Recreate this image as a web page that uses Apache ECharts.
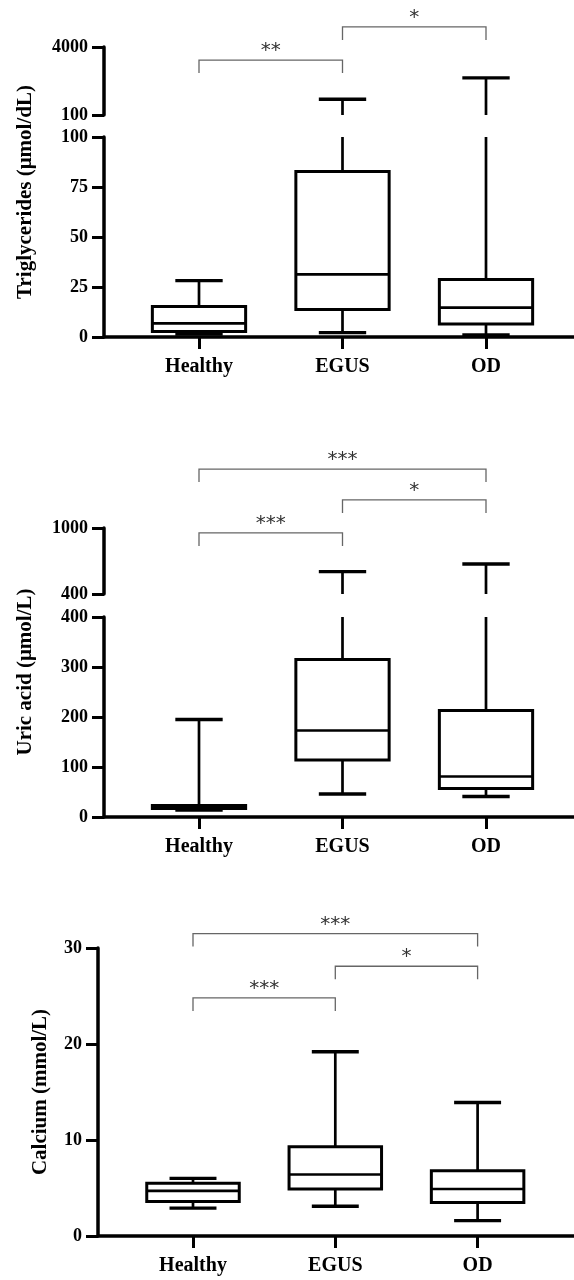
<!DOCTYPE html>
<html><head><meta charset="utf-8">
<script src="https://cdn.jsdelivr.net/npm/echarts@6/dist/echarts.min.js"></script>
<style>html,body{margin:0;padding:0;background:#fff}#c{width:574px;height:1280px}</style>
</head><body><div id="c"></div>
<script>
const categories = ['Healthy', 'EGUS', 'OD'];
// each box: [min, Q1, median, Q3, max]
const triHealthy = [1.5, 2.7, 6.8, 15.2, 28.2];
const triEGUS = [2.2, 13.8, 31.3, 82.7, 1000];
const triOD = [1.0, 6.5, 14.7, 28.8, 2230];
const uricHealthy = [14, 17, 20, 23, 195];
const uricEGUS = [46, 114, 173, 315, 603];
const uricOD = [41, 57, 81, 213, 673];
const caHealthy = [2.9, 3.6, 4.7, 5.5, 6.0];
const caEGUS = [3.1, 4.9, 6.4, 9.3, 19.2];
const caOD = [1.6, 3.5, 4.9, 6.8, 13.9];
const triLowerTicks = [0, 25, 50, 75, 100];
const triUpperTicks = [100, 4000];
const uricLowerTicks = [0, 100, 200, 300, 400];
const uricUpperTicks = [400, 1000];
const caTicks = [0, 10, 20, 30];
// brackets: [fromIndex, toIndex, height (data units), label]
const triBrackets = [[0, 1, 3250, '**'], [1, 2, 5150, '*']];
const uricBrackets = [[0, 1, 955, '***'], [1, 2, 1255, '*'], [0, 2, 1536, '***']];
const caBrackets = [[0, 1, 24.8, '***'], [1, 2, 28.1, '*'], [0, 2, 31.5, '***']];
const titles = ['Triglycerides (μmol/dL)', 'Uric acid (μmol/L)', 'Calcium (mmol/L)'];

const FONT = '"Liberation Serif", "Times New Roman", serif';
const W = 574;
const option = {animation: false, grid: [], xAxis: [], yAxis: [], series: [], graphic: []};

function boxSeries(xi, data, lo, hi) {
  return {
    type: 'custom', xAxisIndex: xi, yAxisIndex: xi, clip: false, silent: true,
    data: data.map((d, i) => [i].concat(d)),
    encode: {x: 0, y: [1, 2, 3, 4, 5]},
    renderItem(params, api) {
      const i = api.value(0);
      const mn = api.value(1), q1 = api.value(2), md = api.value(3), q3 = api.value(4), mx = api.value(5);
      const band = api.size([1, 0])[0];
      const bw = band * 0.65, cw = band * 0.33;
      const cx = api.coord([i, lo])[0];
      const Y = v => api.coord([i, Math.max(lo, Math.min(hi, v))])[1];
      const ch = [];
      const line = (x1, y1, x2, y2, w) => ch.push({type: 'line', shape: {x1, y1, x2, y2}, style: {stroke: '#000', lineWidth: w}});
      const seg = (a, b) => { const s = Math.max(a, lo), e = Math.min(b, hi); if (e > s) line(cx, Y(s), cx, Y(e), 2.7); };
      seg(mn, q1); seg(q3, mx);
      if (mn >= lo && mn <= hi) line(cx - cw / 2, Y(mn), cx + cw / 2, Y(mn), 3.4);
      if (mx >= lo && mx <= hi) line(cx - cw / 2, Y(mx), cx + cw / 2, Y(mx), 3.4);
      const bs = Math.max(q1, lo), be = Math.min(q3, hi);
      if (be > bs) {
        const yt = Y(be), yb = Y(bs);
        ch.push({type: 'rect', shape: {x: cx - bw / 2, y: yt, width: bw, height: yb - yt}, style: {stroke: '#000', fill: null, lineWidth: 3}});
      }
      if (md >= lo && md <= hi) line(cx - bw / 2, Y(md), cx + bw / 2, Y(md), 2.6);
      return {type: 'group', children: ch};
    }
  };
}

function bracketSeries(xi, brackets) {
  return {
    type: 'custom', xAxisIndex: xi, yAxisIndex: xi, clip: false, silent: true, z: 5,
    data: brackets.map(b => [b[0], b[1], b[2]]),
    encode: {x: [0, 1], y: 2},
    renderItem(params, api) {
      const b = brackets[params.dataIndex];
      const p1 = api.coord([api.value(0), api.value(2)]);
      const p2 = api.coord([api.value(1), api.value(2)]);
      const drop = 13;
      return {type: 'group', children: [
        {type: 'polyline', shape: {points: [[p1[0], p1[1] + drop], [p1[0], p1[1]], [p2[0], p1[1]], [p2[0], p1[1] + drop]]},
          style: {stroke: '#666', lineWidth: 1.3, fill: null}},
        {type: 'text', x: (p1[0] + p2[0]) / 2, y: p1[1] + 1,
          style: {text: b[3], fill: '#333', font: '20px "DejaVu Sans", sans-serif', align: 'center', verticalAlign: 'bottom'}}
      ]};
    }
  };
}

// one segment: frame grid (axis lines + y ticks) and category grid (boxes)
function segment(s) {
  const h = s.bottom - s.top;
  const gi = option.grid.length;
  option.grid.push({left: s.axisX, top: s.top, width: W - s.axisX, height: h, outerBoundsMode: 'none'});
  option.xAxis.push({gridIndex: gi, type: 'value', min: 0, max: 1,
    axisLine: {show: s.xLine, onZero: false, lineStyle: {color: '#000', width: 3.5}},
    axisTick: {show: false}, axisLabel: {show: false}, splitLine: {show: false}});
  option.yAxis.push({gridIndex: gi, type: 'value', min: s.min, max: s.max,
    axisLine: {show: true, onZero: false, lineStyle: {color: '#000', width: 3.5}},
    axisTick: {show: true, length: 12, customValues: s.ticks, lineStyle: {color: '#000', width: 3}},
    axisLabel: {show: true, customValues: s.ticks, margin: 16, color: '#000', fontFamily: FONT, fontWeight: 'bold', fontSize: 18,
      formatter: v => String(v)},
    splitLine: {show: false}});
  option.series.push({type: 'line', xAxisIndex: gi, yAxisIndex: gi, data: [], silent: true});
  const ci = option.grid.length;
  const band = s.band;
  option.grid.push({left: s.c0 - band / 2, top: s.top, width: band * 3, height: h, outerBoundsMode: 'none'});
  option.xAxis.push({gridIndex: ci, type: 'category', data: categories, boundaryGap: true,
    axisLine: {show: false},
    axisTick: {show: s.xLabels, alignWithLabel: true, length: 12, lineStyle: {color: '#000', width: 3}},
    axisLabel: {show: s.xLabels, margin: 20, color: '#000', fontFamily: FONT, fontWeight: 'bold', fontSize: 20},
    splitLine: {show: false}});
  option.yAxis.push({gridIndex: ci, type: 'value', min: s.min, max: s.max, show: false});
  option.series.push(boxSeries(ci, s.boxes, s.min, s.max));
  if (s.brackets) option.series.push(bracketSeries(ci, s.brackets));
}

// Panel 1: Triglycerides
segment({top: 137, bottom: 337, axisX: 104, c0: 199, band: 143.5, min: 0, max: 100, ticks: triLowerTicks,
  xLine: true, xLabels: true, boxes: [triHealthy, triEGUS, triOD]});
segment({top: 47, bottom: 115, axisX: 104, c0: 199, band: 143.5, min: 100, max: 4000, ticks: triUpperTicks,
  xLine: false, xLabels: false, boxes: [triHealthy, triEGUS, triOD], brackets: triBrackets});
// Panel 2: Uric acid
segment({top: 617, bottom: 817, axisX: 104, c0: 199, band: 143.5, min: 0, max: 400, ticks: uricLowerTicks,
  xLine: true, xLabels: true, boxes: [uricHealthy, uricEGUS, uricOD]});
segment({top: 528, bottom: 594, axisX: 104, c0: 199, band: 143.5, min: 400, max: 1000, ticks: uricUpperTicks,
  xLine: false, xLabels: false, boxes: [uricHealthy, uricEGUS, uricOD], brackets: uricBrackets});
// Panel 3: Calcium
segment({top: 948, bottom: 1236, axisX: 98, c0: 193, band: 142.3, min: 0, max: 30, ticks: caTicks,
  xLine: true, xLabels: true, boxes: [caHealthy, caEGUS, caOD], brackets: caBrackets});

const titlePos = [[25.6, 192], [25.6, 672], [41, 1092]];
titles.forEach((t, k) => option.graphic.push({type: 'text', x: titlePos[k][0], y: titlePos[k][1], rotation: Math.PI / 2,
  style: {text: t, fill: '#000', font: 'bold 21px ' + FONT, align: 'center', verticalAlign: 'middle'}}));

const chart = echarts.init(document.getElementById('c'), null, {renderer: 'canvas'});
chart.setOption(option);
</script></body></html>
